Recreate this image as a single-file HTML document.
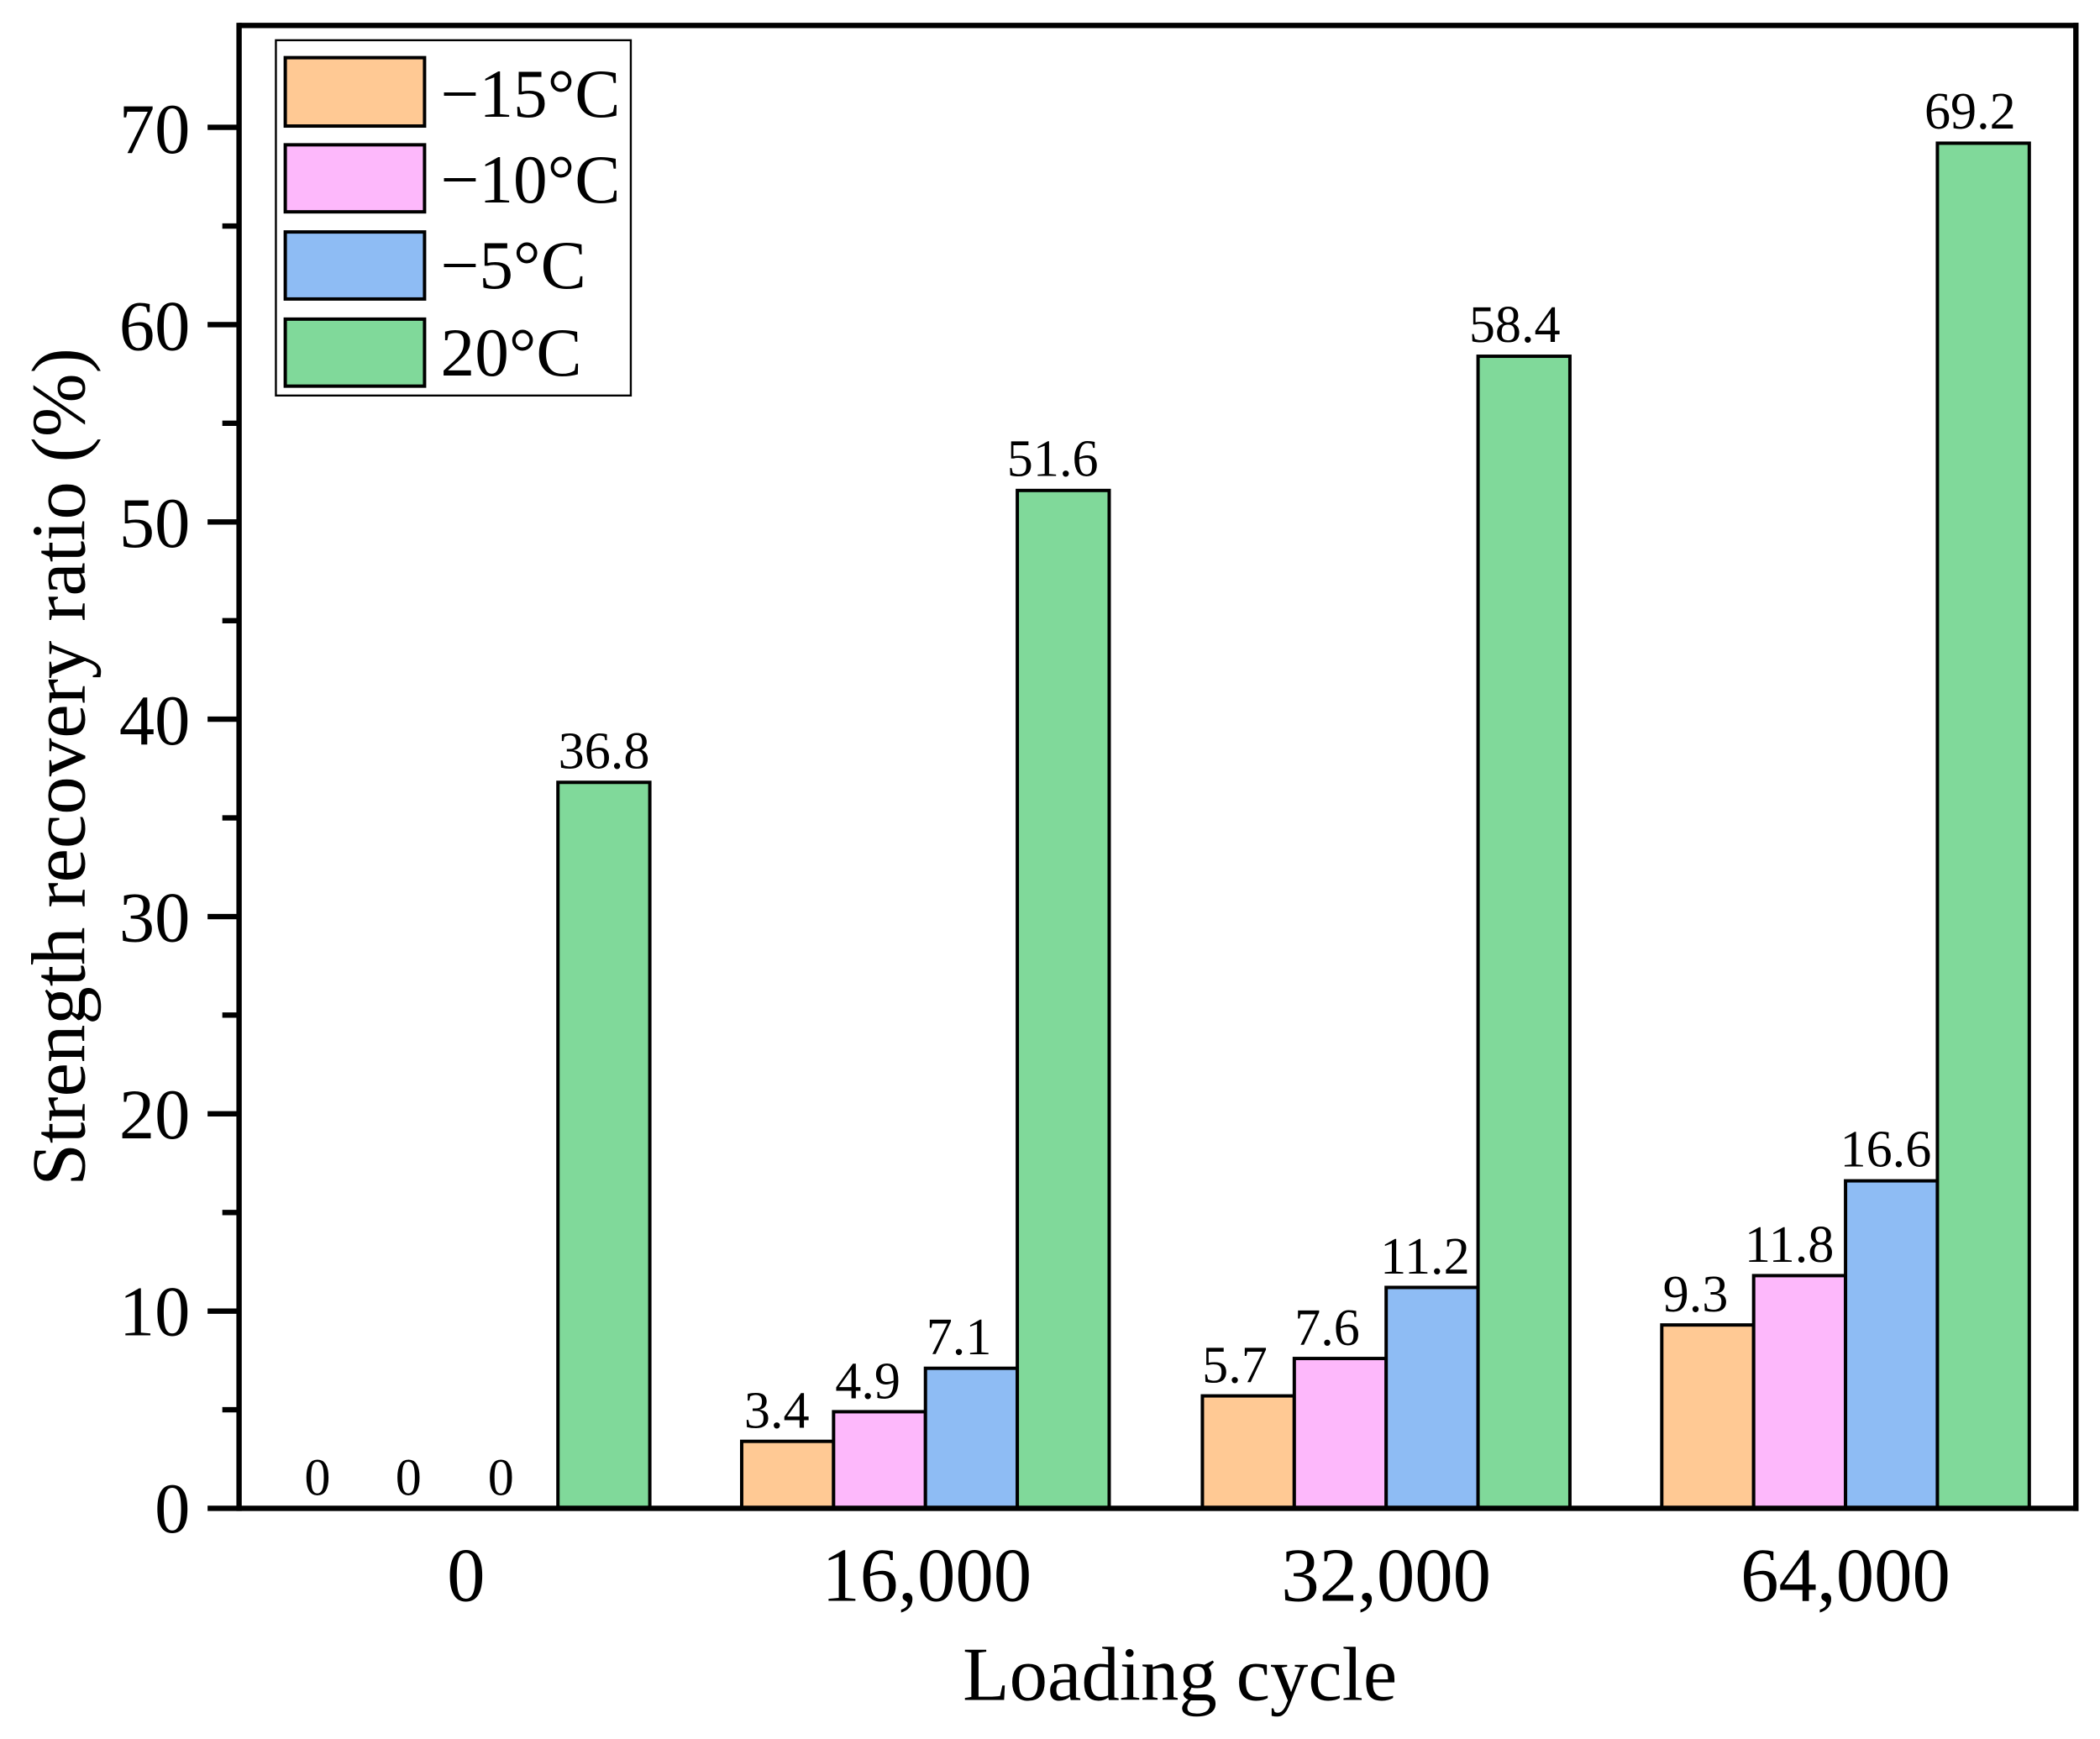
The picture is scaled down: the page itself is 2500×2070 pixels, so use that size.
<!DOCTYPE html>
<html><head><meta charset="utf-8"><style>
html,body{margin:0;padding:0;background:#fff;}
svg{display:block;}
text{font-family:"Liberation Serif",serif;fill:#000;}
</style></head><body>
<svg width="2500" height="2070" viewBox="0 0 1568 1297" preserveAspectRatio="none" xmlns="http://www.w3.org/2000/svg">
<rect width="1568" height="1297" fill="#fff"/>
<g stroke="#000" stroke-width="2.5">
<rect x="416.6" y="583.5" width="68.6" height="541.5" fill="#80D99A"/>
<rect x="553.8" y="1075" width="68.6" height="50" fill="#FFC994"/>
<rect x="622.4" y="1052.9" width="68.6" height="72.1" fill="#FDB8FB"/>
<rect x="691" y="1020.5" width="68.6" height="104.5" fill="#8EBCF4"/>
<rect x="759.6" y="365.8" width="68.6" height="759.2" fill="#80D99A"/>
<rect x="897.8" y="1041.1" width="68.6" height="83.9" fill="#FFC994"/>
<rect x="966.4" y="1013.2" width="68.6" height="111.8" fill="#FDB8FB"/>
<rect x="1035" y="960.2" width="68.6" height="164.8" fill="#8EBCF4"/>
<rect x="1103.6" y="265.7" width="68.6" height="859.3" fill="#80D99A"/>
<rect x="1240.8" y="988.2" width="68.6" height="136.8" fill="#FFC994"/>
<rect x="1309.4" y="951.4" width="68.6" height="173.6" fill="#FDB8FB"/>
<rect x="1378" y="880.7" width="68.6" height="244.3" fill="#8EBCF4"/>
<rect x="1446.6" y="106.8" width="68.6" height="1018.2" fill="#80D99A"/>
</g>
<g font-size="39" text-anchor="middle">
<text x="237" y="1115">0</text><text x="305" y="1115">0</text><text x="374" y="1115">0</text>
<text x="451" y="573">36.8</text>
<text x="580" y="1065">3.4</text><text x="648" y="1043">4.9</text><text x="716" y="1010">7.1</text><text x="786" y="355">51.6</text>
<text x="922" y="1031">5.7</text><text x="991" y="1003">7.6</text><text x="1064" y="950">11.2</text><text x="1131" y="255">58.4</text>
<text x="1266" y="978">9.3</text><text x="1336" y="941">11.8</text><text x="1408" y="870">16.6</text><text x="1471" y="96">69.2</text>
</g>
<g stroke="#000" fill="none">
<line x1="178" y1="19" x2="1552" y2="19" stroke-width="4"/>
<line x1="1550" y1="17" x2="1550" y2="1127" stroke-width="4"/>
<line x1="178.5" y1="17" x2="178.5" y2="1127" stroke-width="4"/>
<line x1="155" y1="1125" x2="1552" y2="1125" stroke-width="4"/>
</g>
<g stroke="#000" stroke-width="4">
<line x1="155" y1="977.9" x2="178" y2="977.9"/>
<line x1="155" y1="830.7" x2="178" y2="830.7"/>
<line x1="155" y1="683.6" x2="178" y2="683.6"/>
<line x1="155" y1="536.4" x2="178" y2="536.4"/>
<line x1="155" y1="389.3" x2="178" y2="389.3"/>
<line x1="155" y1="242.1" x2="178" y2="242.1"/>
<line x1="155" y1="95" x2="178" y2="95"/>
<line x1="166" y1="1051.4" x2="178" y2="1051.4"/>
<line x1="166" y1="904.3" x2="178" y2="904.3"/>
<line x1="166" y1="757.1" x2="178" y2="757.1"/>
<line x1="166" y1="610" x2="178" y2="610"/>
<line x1="166" y1="462.9" x2="178" y2="462.9"/>
<line x1="166" y1="315.7" x2="178" y2="315.7"/>
<line x1="166" y1="168.6" x2="178" y2="168.6"/>
</g>
<g font-size="53" text-anchor="end">
<text x="142" y="1143">0</text>
<text x="142" y="996">10</text>
<text x="142" y="849">20</text>
<text x="142" y="702">30</text>
<text x="142" y="555">40</text>
<text x="142" y="408">50</text>
<text x="142" y="261">60</text>
<text x="142" y="114">70</text>
</g>
<g font-size="57" text-anchor="middle">
<text x="348" y="1194">0</text>
<text x="692" y="1194">16,000</text>
<text x="1035" y="1194">32,000</text>
<text x="1378" y="1194">64,000</text>
<text x="881" y="1268">Loading cycle</text>
<text transform="translate(63,572) rotate(-90)">Strength recovery ratio (%)</text>
</g>
<rect x="206" y="30" width="265" height="265" fill="#fff" stroke="#000" stroke-width="1.5"/>
<g stroke="#000" stroke-width="2.5">
<rect x="213" y="43" width="104" height="51" fill="#FFC994"/>
<rect x="213" y="108" width="104" height="50" fill="#FDB8FB"/>
<rect x="213" y="173" width="104" height="50" fill="#8EBCF4"/>
<rect x="213" y="238" width="104" height="50" fill="#80D99A"/>
</g>
<g font-size="51">
<text x="329" y="87">−15°C</text>
<text x="329" y="151">−10°C</text>
<text x="329" y="215">−5°C</text>
<text x="329" y="280">20°C</text>
</g>
</svg>
</body></html>
